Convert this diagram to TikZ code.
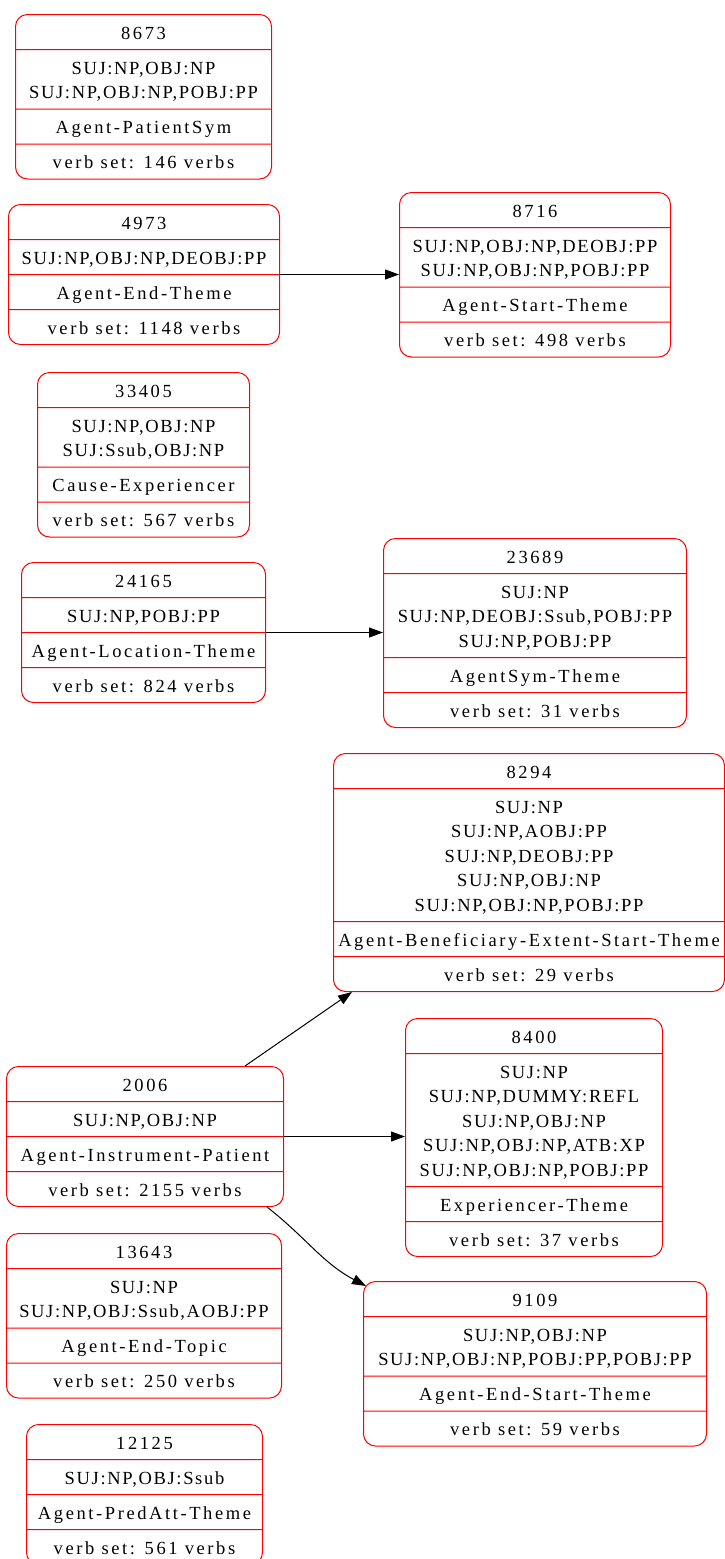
\documentclass[tikz,border=0pt]{standalone}
\usepackage{fontspec}
\setmainfont{Liberation Serif}
\newfontfamily\headfont[LetterSpace=14]{Liberation Serif}
\newfontfamily\framefont[LetterSpace=9]{Liberation Serif}
\newcommand{\rowstrut}{\rule[-5pt]{0pt}{24.5pt}}
\newcommand{\fline}{\framefont\rowstrut}
\usepackage{tikz}
\usetikzlibrary{shapes.multipart}
\usetikzlibrary{arrows.meta}

\begin{document}
\begin{tikzpicture}[x=1pt, y=-1pt,
	vclass/.style={draw=red, line width=1pt, rounded corners=12pt, anchor=north west,
		rectangle split, rectangle split parts=4, align=center, inner xsep=4pt, inner ysep=4.75pt,
		font=\headfont\fontsize{18.5}{24.5}\selectfont},
	edge/.style={-{Triangle[length=14pt,width=10pt]}, line width=1pt}]
	\useasboundingbox (0,0) rectangle (725,1559);

	\node[vclass, minimum width=256pt] (n8673) at (15,14) {\rowstrut 8673	% left column
		\nodepart{two}\fline SUJ:NP,OBJ:NP\\\fline SUJ:NP,OBJ:NP,POBJ:PP
		\nodepart{three}\rowstrut Agent-PatientSym
		\nodepart{four}\rowstrut verb set: 146 verbs};
	\node[vclass, minimum width=271pt] (n4973) at (8,204) {\rowstrut 4973
		\nodepart{two}\fline SUJ:NP,OBJ:NP,DEOBJ:PP
		\nodepart{three}\rowstrut Agent-End-Theme
		\nodepart{four}\rowstrut verb set: 1148 verbs};
	\node[vclass, minimum width=212pt] (n33405) at (37,372) {\rowstrut 33405
		\nodepart{two}\fline SUJ:NP,OBJ:NP\\\fline SUJ:Ssub,OBJ:NP
		\nodepart{three}\rowstrut Cause-Experiencer
		\nodepart{four}\rowstrut verb set: 567 verbs};
	\node[vclass, minimum width=244pt] (n24165) at (21,562) {\rowstrut 24165
		\nodepart{two}\fline SUJ:NP,POBJ:PP
		\nodepart{three}\rowstrut Agent-Location-Theme
		\nodepart{four}\rowstrut verb set: 824 verbs};
	\node[vclass, minimum width=277pt] (n2006) at (6,1066) {\rowstrut 2006
		\nodepart{two}\fline SUJ:NP,OBJ:NP
		\nodepart{three}\rowstrut Agent-Instrument-Patient
		\nodepart{four}\rowstrut verb set: 2155 verbs};
	\node[vclass, minimum width=275pt] (n13643) at (6,1233) {\rowstrut 13643
		\nodepart{two}\fline SUJ:NP\\\fline SUJ:NP,OBJ:Ssub,AOBJ:PP
		\nodepart{three}\rowstrut Agent-End-Topic
		\nodepart{four}\rowstrut verb set: 250 verbs};
	\node[vclass, minimum width=236pt] (n12125) at (26,1424) {\rowstrut 12125
		\nodepart{two}\fline SUJ:NP,OBJ:Ssub
		\nodepart{three}\rowstrut Agent-PredAtt-Theme
		\nodepart{four}\rowstrut verb set: 561 verbs};

	\node[vclass, minimum width=271pt] (n8716) at (399,192) {\rowstrut 8716	% right column
		\nodepart{two}\fline SUJ:NP,OBJ:NP,DEOBJ:PP\\\fline SUJ:NP,OBJ:NP,POBJ:PP
		\nodepart{three}\rowstrut Agent-Start-Theme
		\nodepart{four}\rowstrut verb set: 498 verbs};
	\node[vclass, minimum width=303pt] (n23689) at (383,538) {\rowstrut 23689
		\nodepart{two}\fline SUJ:NP\\\fline SUJ:NP,DEOBJ:Ssub,POBJ:PP\\\fline SUJ:NP,POBJ:PP
		\nodepart{three}\rowstrut AgentSym-Theme
		\nodepart{four}\rowstrut verb set: 31 verbs};
	\node[vclass, minimum width=391pt] (n8294) at (333,753) {\rowstrut 8294
		\nodepart{two}\fline SUJ:NP\\\fline SUJ:NP,AOBJ:PP\\\fline SUJ:NP,DEOBJ:PP\\\fline SUJ:NP,OBJ:NP\\\fline SUJ:NP,OBJ:NP,POBJ:PP
		\nodepart{three}\rowstrut Agent-Beneficiary-Extent-Start-Theme
		\nodepart{four}\rowstrut verb set: 29 verbs};
	\node[vclass, minimum width=257pt] (n8400) at (405,1018) {\rowstrut 8400
		\nodepart{two}\fline SUJ:NP\\\fline SUJ:NP,DUMMY:REFL\\\fline SUJ:NP,OBJ:NP\\\fline SUJ:NP,OBJ:NP,ATB:XP\\\fline SUJ:NP,OBJ:NP,POBJ:PP
		\nodepart{three}\rowstrut Experiencer-Theme
		\nodepart{four}\rowstrut verb set: 37 verbs};
	\node[vclass, minimum width=343pt] (n9109) at (363,1281) {\rowstrut 9109
		\nodepart{two}\fline SUJ:NP,OBJ:NP\\\fline SUJ:NP,OBJ:NP,POBJ:PP,POBJ:PP
		\nodepart{three}\rowstrut Agent-End-Start-Theme
		\nodepart{four}\rowstrut verb set: 59 verbs};

	\draw[edge] (n4973.two split east) -- (n4973.two split east -| n8716.west);		% arrows
	\draw[edge] (n24165.two split east) -- (n24165.two split east -| n23689.west);
	\draw[edge] (n2006.two split east) -- (n2006.two split east -| n8400.west);
	\draw[edge] ([xshift=100pt]n2006.north) -- ([xshift=19pt]n8294.south west);
	\draw[edge] ([xshift=-17pt]n2006.south east) to[out=-38, in=152] ([shift={(3pt,-5pt)}]n9109.north west);
\end{tikzpicture}
\end{document}
